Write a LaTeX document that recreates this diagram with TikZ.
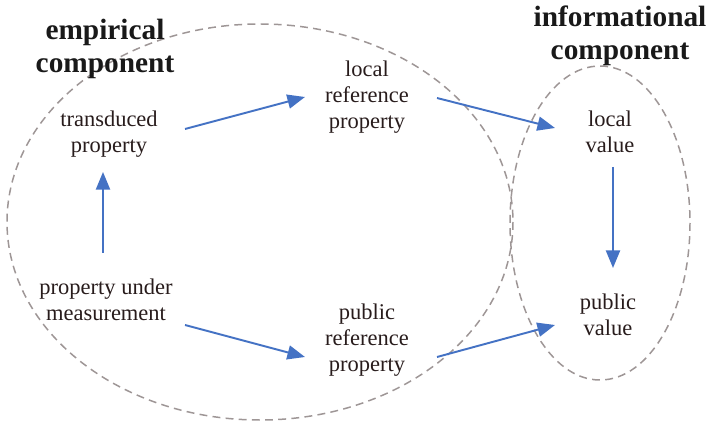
\documentclass[tikz,border=0pt]{standalone}
\usepackage{fontspec}
\setmainfont{Liberation Serif}
\usetikzlibrary{arrows.meta, calc}
\definecolor{arrblue}{RGB}{68,114,196}
\definecolor{rimgray}{RGB}{158,150,150}
\definecolor{inkbrown}{RGB}{40,28,28}
\tikzset{
  txt/.style = {align=center, inner sep=0pt, text=inkbrown,
                font=\fontsize{12.8}{15}\selectfont},
  ttl/.style = {align=center, inner sep=0pt, text=black!90,
                font=\fontsize{16.7}{19}\selectfont\bfseries},
  rim/.style = {draw=rimgray, line width=0.85pt, dash pattern=on 4.5pt off 3pt},
  arr/.style = {-{Triangle[length=10pt, width=8pt]}, draw=arrblue, line width=1.1pt},
}

\begin{document}
\begin{tikzpicture}[x=0.02cm, y=-0.02cm]
  \useasboundingbox (0,0) rectangle (710,422);
  \draw[rim] (260,222) ellipse [x radius=253, y radius=198];
  \draw[rim] (600,223) ellipse [x radius=90, y radius=157];
  \node[ttl] (empt) at (105,49) {empirical\\component};
  \node[ttl] (inft) at (620,36) {informational\\component};
  \node[txt] (tp)  at (109,134) {transduced\\property};
  \node[txt] (lrp) at (367,97)  {local\\reference\\property};
  \node[txt] (lv)  at (610,132) {local\\value};
  \node[txt] (pum) at (106,300) {property under\\measurement};
  \node[txt] (prp) at (367,340) {public\\reference\\property};
  \node[txt] (pv)  at (608,315) {public\\value};
  \draw[arr] ($(tp)+(76,-5)$)   -- ($(lrp)+(-62,0)$);
  \draw[arr] ($(lrp)+(70,1)$)   -- ($(lv)+(-55,-4)$);
  \draw[arr] ($(pum)+(-3,-47)$) -- ($(tp)+(-6,38)$);
  \draw[arr] ($(lv)+(3,35)$)    -- ($(pv)+(5,-47)$);
  \draw[arr] ($(pum)+(79,25)$)  -- ($(prp)+(-62,17)$);
  \draw[arr] ($(prp)+(70,17)$)  -- ($(pv)+(-53,10)$);
\end{tikzpicture}
\end{document}
